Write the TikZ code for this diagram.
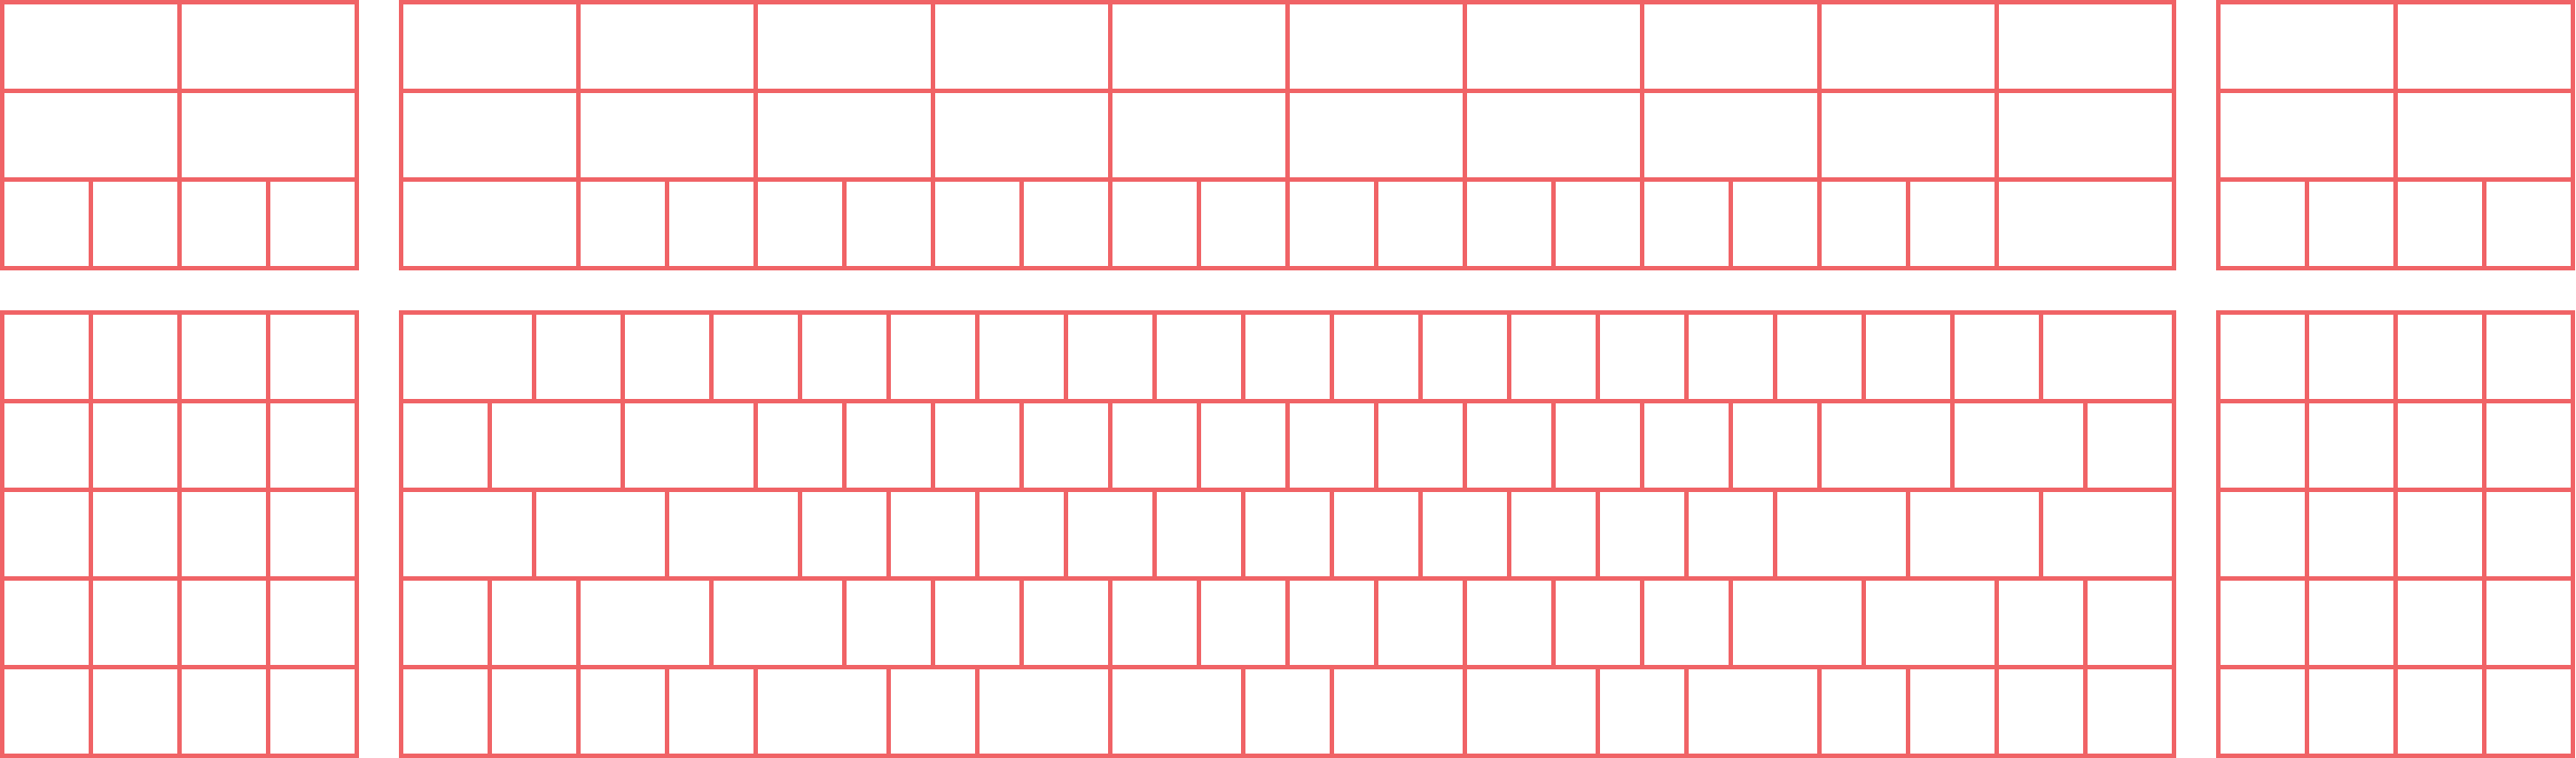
\documentclass[tikz,border=0pt]{standalone}
\usepackage{tikz}
\definecolor{gridRed}{RGB}{240,99,102}

\begin{document}
\begin{tikzpicture}[
    cell/.style={draw=gridRed,line width=1.35pt},
    outline/.style={cell,line join=miter}
  ]
  \useasboundingbox (0,0) rectangle (29.06,8.55);

  % upper left block
  \begin{scope}[shift={(0.025,5.525)}]
    \draw[outline] (0,0) rectangle (4,3);
    \draw[cell] (0,1) -- (4,1) (0,2) -- (4,2);
    \draw[cell] (2,0) -- (2,3);
    \foreach \x in {1,3} \draw[cell] (\x,0) -- (\x,1);
  \end{scope}

  % upper middle block
  \begin{scope}[shift={(4.525,5.525)}]
    \draw[outline] (0,0) rectangle (20,3);
    \draw[cell] (0,1) -- (20,1) (0,2) -- (20,2);
    \foreach \x in {2,4,...,18} \draw[cell] (\x,0) -- (\x,3);
    \foreach \x in {3,5,...,17} \draw[cell] (\x,0) -- (\x,1);
  \end{scope}

  % upper right block
  \begin{scope}[shift={(25.025,5.525)}]
    \draw[outline] (0,0) rectangle (4,3);
    \draw[cell] (0,1) -- (4,1) (0,2) -- (4,2);
    \draw[cell] (2,0) -- (2,3);
    \foreach \x in {1,3} \draw[cell] (\x,0) -- (\x,1);
  \end{scope}

  % lower left block
  \begin{scope}[shift={(0.025,0.025)}]
    \draw[outline] (0,0) rectangle (4,5);
    \draw[cell] (0,0) grid (4,5);
  \end{scope}

  % lower middle block, rows from top to bottom
  \begin{scope}[shift={(4.525,0.025)}]
    \draw[outline] (0,0) rectangle (20,5);
    \foreach \y in {1,...,4} \draw[cell] (0,\y) -- (20,\y);
    \foreach \y/\cuts in {
        4/{1.5,2.5,3.5,4.5,5.5,6.5,7.5,8.5,9.5,10.5,11.5,12.5,13.5,14.5,15.5,16.5,17.5,18.5},
        3/{1,2.5,4,5,6,7,8,9,10,11,12,13,14,15,16,17.5,19},
        2/{1.5,3,4.5,5.5,6.5,7.5,8.5,9.5,10.5,11.5,12.5,13.5,14.5,15.5,17,18.5},
        1/{1,2,3.5,5,6,7,8,9,10,11,12,13,14,15,16.5,18,19},
        0/{1,2,3,4,5.5,6.5,8,9.5,10.5,12,13.5,14.5,16,17,18,19}}
      \foreach \x in \cuts \draw[cell] (\x,\y) -- (\x,\y+1);
  \end{scope}

  % lower right block
  \begin{scope}[shift={(25.025,0.025)}]
    \draw[outline] (0,0) rectangle (4,5);
    \draw[cell] (0,0) grid (4,5);
  \end{scope}
\end{tikzpicture}
\end{document}
